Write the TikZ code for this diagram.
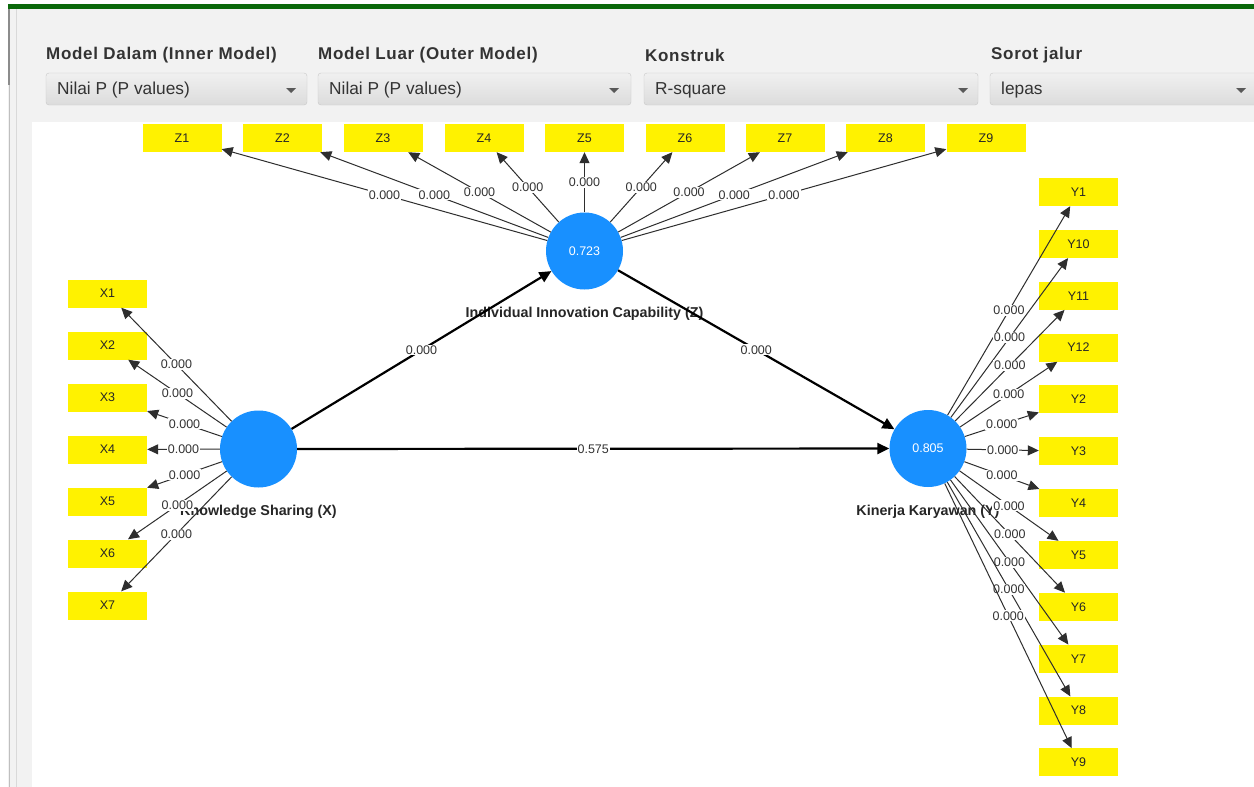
\documentclass[tikz,border=0pt]{standalone}
\usepackage{fontspec}
\setmainfont{Liberation Sans}
\newfontfamily\hdrfont[LetterSpace=4]{Liberation Sans}
\usetikzlibrary{arrows.meta}
\definecolor{plsblue}{RGB}{24,144,255}
\definecolor{panel}{RGB}{242,242,242}
\definecolor{barGreen}{RGB}{10,104,10}
\definecolor{ddtop}{RGB}{240,240,240}
\definecolor{ddbot}{RGB}{220,220,220}
\definecolor{ddline}{RGB}{200,200,200}
\definecolor{txt}{RGB}{51,51,51}
\tikzset{
  ind/.style={rectangle, fill=yellow, minimum width=79pt, minimum height=28pt, inner sep=0pt,
    font=\fontsize{12.5}{12.5}\selectfont, text=black!85},
  lv/.style={circle, fill=plsblue, minimum size=77pt, inner sep=0pt, text=white,
    font=\fontsize{12.5}{12.5}\selectfont},
  lvlab/.style={font=\bfseries\fontsize{14.3}{14.3}\selectfont, text=black!85, inner sep=0pt},
  outerln/.style={draw=black!82, line width=1pt, -{Triangle[length=11pt,width=10pt]}},
  innerln/.style={draw=black, line width=2.2pt, -{Triangle[length=12pt,width=11pt]}},
  pv/.style={fill=white, inner sep=1pt, font=\fontsize{12.5}{12.5}\selectfont, text=txt},
  hdr/.style={anchor=west, inner sep=0pt, font=\hdrfont\bfseries\fontsize{17}{17}\selectfont, text=txt},
  ddtxt/.style={anchor=west, inner sep=0pt, font=\fontsize{17.3}{17.3}\selectfont, text=txt},
}
\begin{document}
\begin{tikzpicture}[x=1pt,y=-1pt]
\useasboundingbox (0,0) rectangle (1254,787);
% backgrounds
\fill[white] (0,0) rectangle (1254,787);
\fill[panel] (8,9) rectangle (1254,787);
\fill[barGreen] (8,4) rectangle (1254,9);
\draw[black!25, line width=1pt] (9,9) -- (9,787);
\draw[black!45, line width=2pt] (9,9) -- (9,85);
\draw[black!15, line width=1pt] (16,9) -- (16,787);
\fill[white] (32,122) rectangle (1254,787);
% header labels
\node[hdr] (h1) at (46,55) {Model Dalam (Inner Model)};
\node[hdr] (h2) at (318,55) {Model Luar (Outer Model)};
\node[hdr] (h3) at (645,55) {Konstruk};
\node[hdr] (h4) at (991,55) {Sorot jalur};
% dropdowns
\foreach \a/\b/\t/\ar [count=\k] in {46/307/Nilai P (P values)/291, 318/631/Nilai P (P values)/614, 644/978/R-square/963, 990/1264/lepas/1241}{
  \shade[top color=ddtop, bottom color=ddbot, draw=ddline, rounded corners=3pt] (\a,73) rectangle (\b,105);
  \node[ddtxt] (d\k) at (\a+11,90) {\t};
  \fill[black!65] (\ar-5,88) -- (\ar+5,88) -- (\ar,93) -- cycle;
}
% indicators
\foreach \i/\x in {1/182,2/282.5,3/383,4/484,5/584.5,6/685,7/785,8/885.5,9/986}
  \node[ind] (Z\i) at (\x,138) {Z\i};
\foreach \i in {1,...,7}
  \node[ind] (X\i) at (107.5,{293.5+52*(\i-1)}) {X\i};
\foreach \n [count=\k from 0] in {1,10,11,12,2,3,4,5,6,7,8,9}
  \node[ind] (Y\n) at (1078.5,{192+51.86*\k}) {Y\n};
% latent variables
\node[lv] (Zc) at (584.5,251) {0.723};
\node[lv] (Xc) at (258.5,449) {};
\node[lv] (Yc) at (928,448.5) {0.805};
\node[lvlab] (Zl) at (584.5,314) {Individual Innovation Capability (Z)};
\node[lvlab] (Xl) at (258.5,512) {Knowledge Sharing (X)};
\node[lvlab] (Yl) at (928,512) {Kinerja Karyawan (Y)};
% outer model
\foreach \i in {1,...,9}
  \draw[outerln] (Zc) -- node[pv] {0.000} (Z\i);
\foreach \i in {1,...,7}
  \draw[outerln] (Xc) -- node[pv] {0.000} (X\i);
\foreach \n in {1,10,11,12,2,3,4,5,6,7,8,9}
  \draw[outerln] (Yc) -- node[pv] {0.000} (Y\n);
% inner model
\draw[innerln] (Xc) -- node[pv] {0.000} (Zc);
\draw[innerln] (Zc) -- node[pv] {0.000} (Yc);
\draw[innerln] (Xc) -- node[pv] {0.575} (Yc);
\end{tikzpicture}
\end{document}
